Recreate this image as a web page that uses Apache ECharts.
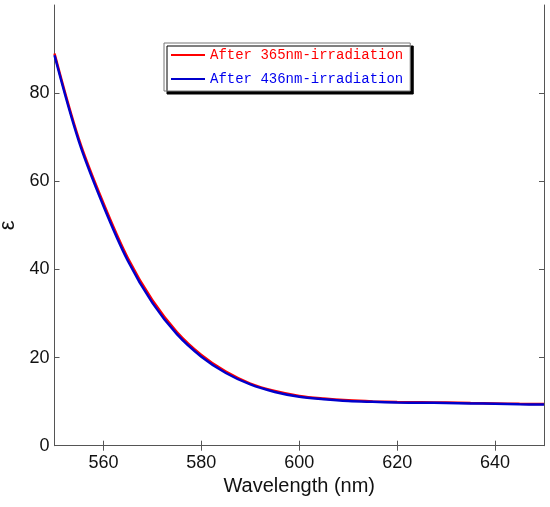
<!DOCTYPE html>
<html><head><meta charset="utf-8">
<script src="https://cdn.jsdelivr.net/npm/echarts@6/dist/echarts.min.js"></script>
<style>html,body{margin:0;padding:0;background:#fff}#c{width:550px;height:507px}</style>
</head><body><div id="c"></div>
<script>
var wavelengths = [550,555,560,565,570,575,580,585,590,595,600,605,610,615,620,625,630,635,640,645,650];
var after365 = [89.0,69.5,55.0,42.5,33.0,25.8,20.6,16.8,14.1,12.4,11.3,10.7,10.3,10.05,9.9,9.85,9.8,9.7,9.6,9.5,9.45];
var after436 = [88.6,69.0,54.4,41.9,32.4,25.3,20.2,16.5,13.9,12.2,11.1,10.55,10.15,9.95,9.8,9.75,9.7,9.6,9.5,9.4,9.35];
var seriesNames = ['After 365nm-irradiation','After 436nm-irradiation'];
var xTicks = [560,580,600,620,640];
var yTicks = [0,20,40,60,80];

function pairs(xs, ys){ return xs.map(function(x,i){ return [x, ys[i]]; }); }

var chart = echarts.init(document.getElementById('c'));
var axisCol = '#555';
var labelFont = {fontFamily:'Liberation Sans', fontSize:18, color:'#111'};
chart.setOption({
  animation:false,
  grid:{left:54.5, right:6, top:5, bottom:61.3, containLabel:false, outerBoundsMode:'none'},
  legend:{
    orient:'vertical', left:164, top:43,
    padding:[5,7,5,7], itemGap:10, itemWidth:34, itemHeight:14,
    backgroundColor:'#fff', borderColor:'#777', borderWidth:1, borderRadius:0,
    shadowColor:'#000', shadowBlur:0, shadowOffsetX:3, shadowOffsetY:3,
    icon:'path://M0,6 L34,6 L34,8 L0,8 Z',
    textStyle:{fontFamily:'Liberation Mono', fontSize:14, lineHeight:14},
    data:[
      {name:seriesNames[0], textStyle:{color:'#ff0000'}},
      {name:seriesNames[1], textStyle:{color:'#0000ee'}}
    ]
  },
  xAxis:[{
    type:'value', min:550, max:650, interval:10,
    name:'Wavelength (nm)', nameLocation:'middle', nameGap:29,
    nameTextStyle:{fontFamily:'Liberation Sans', fontSize:20, color:'#111'},
    axisLine:{show:true, lineStyle:{color:axisCol}},
    axisTick:{show:true, inside:true, length:5, lineStyle:{color:axisCol}, customValues:xTicks},
    axisLabel:Object.assign({margin:8, customValues:xTicks}, labelFont),
    splitLine:{show:false}
  },{
    type:'value', min:550, max:650, interval:10, position:'top',
    axisLine:{show:true, lineStyle:{color:axisCol}},
    axisTick:{show:true, inside:true, length:5, lineStyle:{color:axisCol}, customValues:xTicks},
    axisLabel:{show:false}, splitLine:{show:false}
  }],
  yAxis:[{
    type:'value', min:0, max:100, interval:20,
    name:'ε', nameLocation:'middle', nameGap:31, nameRotate:90,
    nameTextStyle:{fontFamily:'Liberation Sans', fontSize:22, color:'#111'},
    axisLine:{show:true, lineStyle:{color:axisCol}},
    axisTick:{show:true, inside:true, length:5, lineStyle:{color:axisCol}, customValues:yTicks},
    axisLabel:Object.assign({margin:5, customValues:yTicks}, labelFont),
    splitLine:{show:false}
  },{
    type:'value', min:0, max:100, interval:20, position:'right',
    axisLine:{show:true, lineStyle:{color:axisCol}},
    axisTick:{show:true, inside:true, length:5, lineStyle:{color:axisCol}, customValues:yTicks},
    axisLabel:{show:false}, splitLine:{show:false}
  }],
  series:[
    {name:seriesNames[0], type:'line', xAxisIndex:0, yAxisIndex:0, data:pairs(wavelengths, after365),
     smooth:0.35, showSymbol:false, symbol:'none', lineStyle:{color:'#ff0000', width:2.5}, itemStyle:{color:'#ff0000'}},
    {name:seriesNames[1], type:'line', xAxisIndex:0, yAxisIndex:0, data:pairs(wavelengths, after436),
     smooth:0.35, showSymbol:false, symbol:'none', lineStyle:{color:'#0000cc', width:2.5}, itemStyle:{color:'#0000cc'}}
  ]
});
</script></body></html>
